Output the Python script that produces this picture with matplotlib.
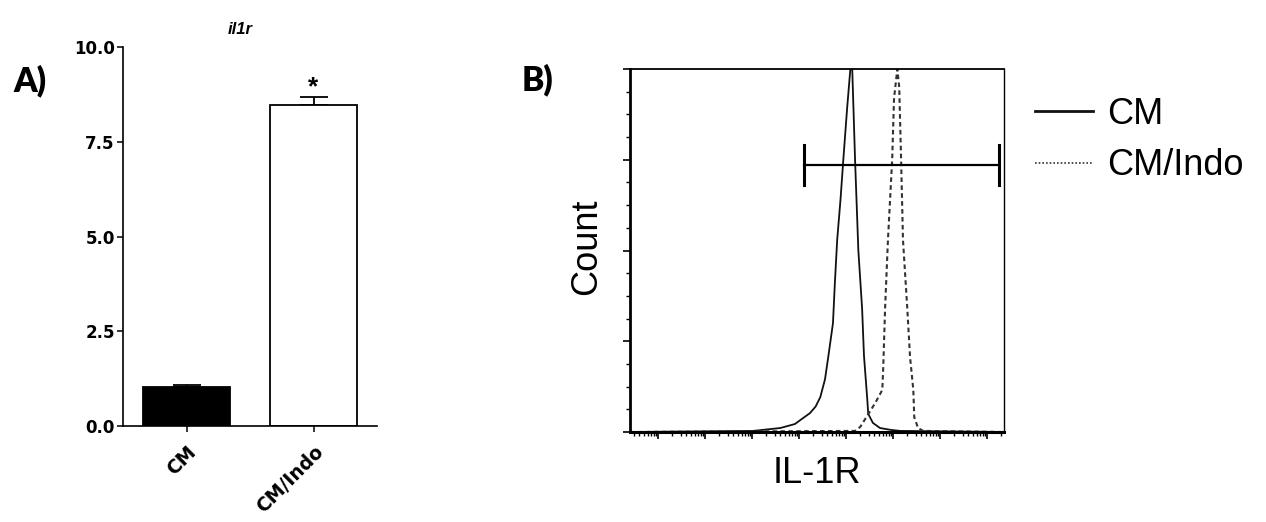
import numpy as np
import matplotlib
matplotlib.use("Agg")
import matplotlib.pyplot as plt
from matplotlib.ticker import FixedLocator, NullFormatter, LogLocator

# ---------------- data ----------------
# Panel A: qPCR il1r relative expression
groups = ["CM", "CM/Indo"]
expr_mean = [1.02, 8.48]
expr_err = [0.06, 0.21]
bar_colors = ["black", "white"]
y_ticks_a = [0.0, 2.5, 5.0, 7.5, 10.0]
y_ticklabels_a = ["0.0", "2.5", "5.0", "7.5", "10.0"]

# Panel B: flow cytometry histograms (log10 IL-1R intensity, % of max count)
cm_log = [-0.6, 2.02, 2.60, 2.91, 3.09, 3.23, 3.35, 3.45, 3.55, 3.62, 3.72, 3.76, 3.81,
          3.88, 3.94, 4.02, 4.09, 4.13, 4.19, 4.26, 4.34, 4.38, 4.45, 4.47, 4.57,
          4.72, 4.94, 5.15, 7.36]
cm_count = [0.0, 0.3, 1.1, 2.2, 3.9, 5.2, 7.0, 9.6, 14.5, 20.7, 30.0, 41.0, 53.0,
            64.0, 75.0, 89.0, 100.0, 100.0, 75.0, 50.0, 34.0, 21.0, 9.0, 5.0, 2.5,
            1.1, 0.6, 0.3, 0.0]
indo_log = [-0.6, 4.19, 4.30, 4.62, 4.77, 4.79, 4.83, 4.89, 4.98, 5.02, 5.09, 5.13,
            5.17, 5.21, 5.30, 5.36, 5.43, 5.45, 5.53, 5.64, 7.36]
indo_count = [0.0, 0.3, 1.4, 8.0, 11.6, 17.9, 34.4, 52.9, 75.0, 92.0, 100.0, 95.0,
              75.0, 52.9, 34.4, 20.7, 11.6, 4.1, 1.1, 0.3, 0.0]
gate_lo_log, gate_hi_log = 3.11, 7.26
gate_level = 73.6
gate_cap = (68.0, 79.0)
legend_labels = ["CM", "CM/Indo"]

# ---------------- figure ----------------
W, H = 1266, 522
fig = plt.figure(figsize=(W / 100, H / 100), dpi=100)

def fx(px):
    return px / W

def fy(py):
    return 1 - py / H

arial = "Liberation Sans"
wide_bold = "DejaVu Sans"

# ---- Panel A ----
axA = fig.add_axes([fx(123), fy(426), fx(377) - fx(123), fy(47) - fy(426)])
x = np.arange(len(groups))
axA.bar(x, expr_mean, width=0.68, color=bar_colors, edgecolor="black", linewidth=1.3, zorder=2)
axA.errorbar(x, expr_mean, yerr=[np.zeros(len(expr_err)), expr_err], fmt="none",
             ecolor="black", elinewidth=1.3, capsize=10, capthick=1.3, zorder=1)
axA.set_xlim(-0.5, 1.5)
axA.set_ylim(0, 10)
axA.set_yticks(y_ticks_a)
axA.set_yticklabels(y_ticklabels_a, fontfamily=wide_bold, fontweight="bold", fontsize=12)
axA.set_xticks(x)
axA.set_xticklabels(groups, rotation=45, ha="right", va="top", rotation_mode="anchor",
                    fontfamily=wide_bold, fontweight="bold", fontsize=13.5)
axA.tick_params(axis="both", direction="out", length=4, width=1.1, pad=2)
axA.tick_params(axis="x", pad=8)
for lbl in axA.get_xticklabels():
    lbl.set_x(lbl.get_position()[0])
for s in ["top", "right"]:
    axA.spines[s].set_visible(False)
for s in ["left", "bottom"]:
    axA.spines[s].set_linewidth(1.2)
axA.text(x[1], expr_mean[1] + expr_err[1] + 0.05, "*", ha="center", va="baseline",
         fontfamily=arial, fontweight="bold", fontsize=19)
fig.text(fx(240), fy(30), "il1r", ha="center", va="center", fontfamily=arial,
         fontweight="bold", fontstyle="italic", fontsize=12)
fig.text(fx(30), fy(81), "A)", ha="center", va="center", fontfamily="Lato",
         fontweight="heavy", fontsize=24)

# ---- Panel B ----
axB = fig.add_axes([fx(630), fy(432), fx(1004) - fx(630), fy(69) - fy(432)])
l1, = axB.plot(10 ** np.array(cm_log), cm_count, color="#111111", lw=1.3, label=legend_labels[0])
l2, = axB.plot(10 ** np.array(indo_log), indo_count, color="#333333", lw=1.5,
               dashes=(2.2, 1.6), label=legend_labels[1])
axB.set_xscale("log")
axB.set_xlim(10 ** -0.6, 10 ** 7.36)
axB.set_ylim(0, 100)
axB.xaxis.set_major_locator(FixedLocator([10.0 ** k for k in range(0, 8)]))
axB.xaxis.set_minor_locator(LogLocator(base=10, subs=np.arange(2, 10), numticks=20))
axB.xaxis.set_major_formatter(NullFormatter())
axB.xaxis.set_minor_formatter(NullFormatter())
axB.set_yticks([0, 25, 50, 75, 100])
axB.set_yticks(np.arange(0, 101, 6.25), minor=True)
axB.set_yticklabels([])
axB.tick_params(axis="both", which="major", direction="out", length=5, width=1.2)
axB.tick_params(axis="both", which="minor", direction="out", length=3, width=1.0)
axB.spines["left"].set_linewidth(2.0)
axB.spines["bottom"].set_linewidth(2.2)
axB.spines["top"].set_linewidth(1.3)
axB.spines["right"].set_linewidth(1.0)

# gate marker
axB.plot([10 ** gate_lo_log, 10 ** gate_hi_log], [gate_level, gate_level], color="black", lw=1.6)
axB.plot([10 ** gate_lo_log] * 2, list(gate_cap), color="black", lw=2.2)
axB.plot([10 ** gate_hi_log] * 2, list(gate_cap), color="black", lw=2.2)

axB.set_xlabel("IL-1R", fontfamily=arial, fontsize=26, labelpad=9)
fig.text(fx(587), fy(247), "Count", rotation=90, ha="center", va="center",
         fontfamily=arial, fontsize=26)
fig.text(fx(537), fy(80), "B)", ha="center", va="center", fontfamily="Lato",
         fontweight="heavy", fontsize=24)

leg = fig.legend(handles=[l1, l2], loc="upper left", bbox_to_anchor=(fx(1035), fy(97)),
                 frameon=False, prop={"family": arial, "size": 26}, handlelength=1.6,
                 handletextpad=0.4, labelspacing=0.45, borderpad=0, borderaxespad=0)
leg.get_lines()[0].set_linewidth(2.0)
leg.get_lines()[1].set_linewidth(1.2)
leg.get_lines()[1].set_dashes((1.0, 1.2))

fig.savefig("out.png", dpi=100, facecolor="white")
